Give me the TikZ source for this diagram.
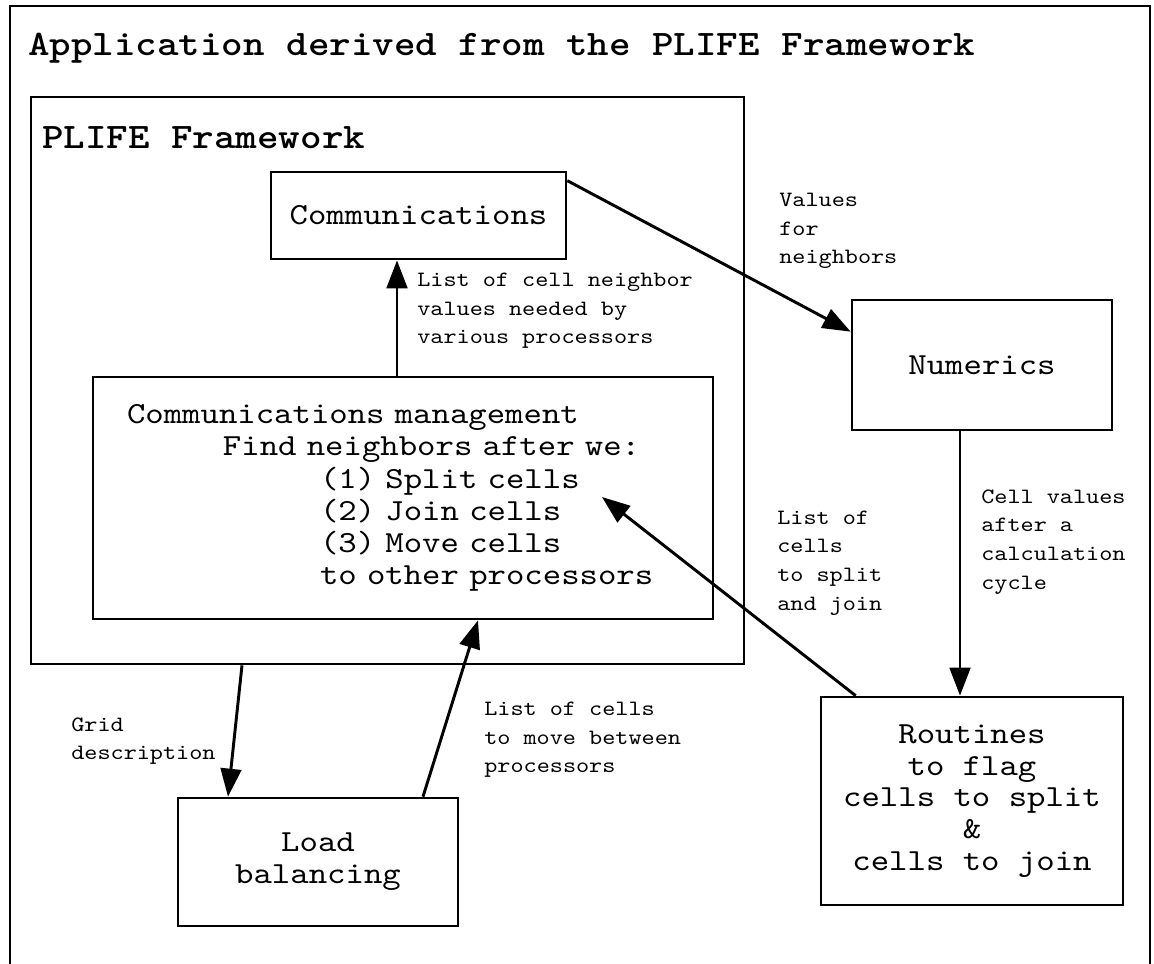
\documentclass[tikz,border=0pt]{standalone}
\usepackage{fontspec}
\usetikzlibrary{arrows.meta,calc}
% Courier-like typewriter faces: Latin Modern Mono widened to 0.6em per character
\newfontfamily\cour[FakeStretch=1.143]{lmmono10-regular.otf}
\newfontfamily\courbf[FakeStretch=1.143]{lmmonolt10-bold.otf}
% every space exactly one character cell wide
\newcommand\cellspacing{\frenchspacing\spaceskip=\fontcharwd\font`a\relax}
\begin{document}
\begin{tikzpicture}[x=0.75pt,y=-0.75pt,
  box/.style={draw,line width=2pt,rectangle,inner sep=0pt,align=center,
    font=\cour\fontsize{23}{24}\selectfont\cellspacing},
  lbl/.style={inner sep=0pt,anchor=west,align=left,
    font=\cour\fontsize{16.4}{21.5}\selectfont\cellspacing},
  heading/.style={inner sep=0pt,anchor=base west,
    font=\courbf\fontsize{26.9}{30}\selectfont\cellspacing},
  flow/.style={line width=2.2pt,-{Triangle[length=21pt,width=15.5pt]}},
  frameline/.style={line width=2pt}]
\useasboundingbox (0,0) rectangle (1154,964);
% outer application frame (open at the bottom)
\draw[frameline] (10,964) -- (10,6) -- (1150,6) -- (1150,964);
\node[heading] (apptitle) at (28,55) {Application derived from the PLIFE Framework};

% framework container
\node[box,minimum width=534.75pt,minimum height=425.25pt] (plife) at (387.5,380.5) {};
\node[heading] (plifetitle) at (42,148) {PLIFE Framework};

% components
\node[box,minimum width=221.25pt,minimum height=65.25pt] (comm) at (418.5,215.5) {Communications};
\node[box,minimum height=181.5pt,text width=414pt,inner xsep=25.5pt,align=left,
  font=\cour\fontsize{23}{24.15}\selectfont\cellspacing] (mgmt) at (403,498)
  {Communications management\\
   \hspace*{72pt}Find neighbors after we:\\
   \hspace*{144.75pt}(1) Split cells\\
   \hspace*{144.75pt}(2) Join cells\\
   \hspace*{144.75pt}(3) Move cells\\
   \hspace*{144.75pt}to other processors};
\node[box,minimum width=195pt,minimum height=97.5pt] (num) at (982,365) {Numerics};
\node[box,minimum width=226.5pt,minimum height=156pt,
  font=\cour\fontsize{23}{23.8}\selectfont\cellspacing] (rout) at (972,801)
  {Routines\\to flag\\cells to split\\\&\\cells to join};
\node[box,minimum width=210pt,minimum height=96pt] (load) at (318,862) {Load\\balancing};

% data flows
\draw[flow] ($(comm.north east)+(0,10)$) -- ($(num.north west)+(0,33)$);
\draw[flow] ($(mgmt.north)+(-6,0)$) -- ($(comm.south)+(-21.5,0)$);
\draw[flow] ($(num.south)+(-22,0)$) -- ($(rout.north)+(-12,0)$);
\draw[flow] ($(rout.north west)+(36,0)$) -- ($(mgmt.center)+(199,-1)$);
\draw[flow] ($(plife.south)+(-145.5,0)$) -- ($(load.north)+(-90,0)$);
\draw[flow] ($(load.north)+(105,0)$) -- ($(mgmt.south)+(75,0)$);

% flow labels
\node[lbl] (lneed) at (417,311) {List of cell neighbor\\values needed by\\various processors};
\node[lbl] (lvals) at (779,231) {Values\\for\\neighbors};
\node[lbl] (lcyc) at (981,542) {Cell values\\after a\\calculation\\cycle};
\node[lbl] (lsplit) at (777,563) {List of\\cells\\to split\\and join};
\node[lbl] (lgrid) at (71,741) {Grid\\description};
\node[lbl] (lmove) at (484,740) {List of cells\\to move between\\processors};
\end{tikzpicture}
\end{document}
